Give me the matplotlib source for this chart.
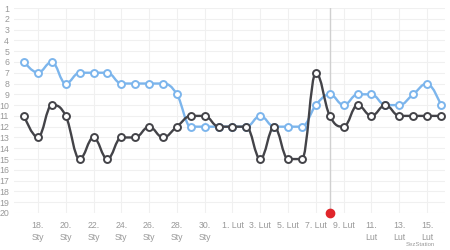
import numpy as np
import matplotlib
matplotlib.use("Agg")
import matplotlib.pyplot as plt
from matplotlib.path import Path
from matplotlib.patches import PathPatch

# one point per day, 17 Sty .. 16 Lut
days = list(range(31))
blue_rank = [6, 7, 6, 8, 7, 7, 7, 8, 8, 8, 8, 9, 12, 12, 12, 12, 12, 11, 12, 12,
             12, 10, 9, 10, 9, 9, 10, 10, 9, 8, 10]
dark_rank = [11, 13, 10, 11, 15, 13, 15, 13, 13, 12, 13, 12, 11, 11, 12, 12, 12, 15, 12, 15,
             15, 7, 11, 12, 10, 11, 10, 11, 11, 11, 11]
tick_days = [1, 3, 5, 7, 9, 11, 13, 15, 17, 19, 21, 23, 25, 27, 29]
tick_labels = ["18.\nSty", "20.\nSty", "22.\nSty", "24.\nSty", "26.\nSty", "28.\nSty", "30.\nSty",
               "1. Lut", "3. Lut", "5. Lut", "7. Lut", "9. Lut", "11.\nLut", "13.\nLut", "15.\nLut"]
marker_day = 22  # 8 Lut
marker_rank = 20

plt.rcParams['font.family'] = ['Liberation Sans', 'DejaVu Sans']


def spline_path(xs, ys, smoothing=1.5):
    # highcharts-like spline through the points
    n = len(xs)
    left = [(xs[i], ys[i]) for i in range(n)]
    right = [(xs[i], ys[i]) for i in range(n)]
    denom = smoothing + 1
    for i in range(1, n - 1):
        px, py = xs[i], ys[i]
        lx, ly = xs[i - 1], ys[i - 1]
        nx, ny = xs[i + 1], ys[i + 1]
        lcx = (smoothing * px + lx) / denom
        lcy = (smoothing * py + ly) / denom
        rcx = (smoothing * px + nx) / denom
        rcy = (smoothing * py + ny) / denom
        corr = (rcy - lcy) * (rcx - px) / (rcx - lcx) + py - rcy
        lcy += corr
        rcy += corr
        if lcy > ly and lcy > py:
            lcy = max(ly, py)
            rcy = 2 * py - lcy
        elif lcy < ly and lcy < py:
            lcy = min(ly, py)
            rcy = 2 * py - lcy
        if rcy > ny and rcy > py:
            rcy = max(ny, py)
            lcy = 2 * py - rcy
        elif rcy < ny and rcy < py:
            rcy = min(ny, py)
            lcy = 2 * py - rcy
        left[i] = (lcx, lcy)
        right[i] = (rcx, rcy)
    verts = [(xs[0], ys[0])]
    codes = [Path.MOVETO]
    for i in range(1, n):
        verts += [right[i - 1], left[i], (xs[i], ys[i])]
        codes += [Path.CURVE4] * 3
    return Path(verts, codes)


fig = plt.figure(figsize=(4.5, 2.5), dpi=100)
ax = fig.add_axes([14 / 450, 1 - 213 / 250, 431 / 450, 205 / 250])

for s in ax.spines.values():
    s.set_visible(False)

ax.set_xlim(-0.72, 30.29)
ax.set_ylim(20, 1)
ax.set_yticks(range(1, 21))
ax.set_xticks(tick_days)
ax.set_xticklabels(tick_labels, linespacing=1.45)
ax.tick_params(length=0, labelsize=6.3, colors='#999999')
ax.tick_params(axis='y', pad=3.5)
ax.tick_params(axis='x', pad=6)
ax.grid(True, color='#f0f0f0', lw=0.8)
ax.set_axisbelow(True)

ax.axvline(marker_day, color='#d0d0d0', lw=1, zorder=1)

for ranks, col, z in [(blue_rank, '#7cb5ec', 3), (dark_rank, '#434348', 4)]:
    ax.add_patch(PathPatch(spline_path(days, ranks), fill=False, edgecolor=col, lw=1.7,
                           zorder=z, capstyle='round', joinstyle='round'))
    ax.plot(days, ranks, ls='none', marker='o', ms=5, mfc='white', mec=col, mew=1.4,
            zorder=z + 0.5, clip_on=False)

ax.plot([marker_day], [marker_rank], 'o', color='#e0262b', ms=6, zorder=6, clip_on=False)

fig.text(435 / 450, 1 - 244 / 250, "SezStation", fontsize=4.3, color='#999999', ha='right', va='center')

fig.savefig("out.png", dpi=100)
